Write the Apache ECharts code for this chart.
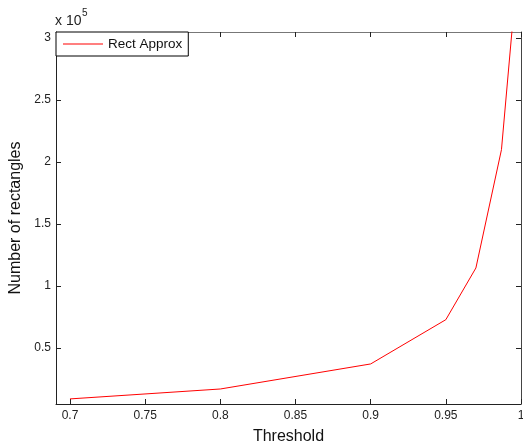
<!DOCTYPE html>
<html><head><meta charset="utf-8">
<script src="https://cdn.jsdelivr.net/npm/echarts@6/dist/echarts.min.js"></script>
<style>html,body{margin:0;padding:0;background:#fff}#c{width:523px;height:446px}</style>
</head><body><div id="c"></div>
<script>
const thresholds = [0.7, 0.8, 0.9, 0.95, 0.97, 0.987, 1.0];
const rectCounts = [8900, 16900, 37100, 72800, 114500, 209900, 388000];
const xTicks = [0.7, 0.75, 0.8, 0.85, 0.9, 0.95, 1.0];
const yTicks = [50000, 100000, 150000, 200000, 250000, 300000];
const seriesName = 'Rect Approx';

const FONT = '"Liberation Sans", Arial, sans-serif';
const X_MIN = 0.6907, X_MAX = 1.0, Y_MIN = 4800, Y_MAX = 304800;
const chart = echarts.init(document.getElementById('c'));
const tickStyle = {show: true, inside: true, length: 5, lineStyle: {color: '#222', width: 1}};
const xfmt = v => (Math.round(v*100)/100).toString();
chart.setOption({
  animation: false,
  backgroundColor: '#fff',
  grid: {left: 56, right: 2, top: 32, bottom: 42, containLabel: false, outerBoundsMode: 'none'},
  legend: {
    left: 56, top: 32, orient: 'vertical',
    backgroundColor: '#fff', borderColor: '#000', borderWidth: 1, borderRadius: 0,
    padding: [5, 6, 5, 7], itemWidth: 40, itemHeight: 12, itemGap: 0,
    textStyle: {fontFamily: FONT, fontSize: 13.5, color: '#111'},
    data: [{name: seriesName, icon: 'path://M0,0L40,0L40,1L0,1Z'}]
  },
  xAxis: [{
    type: 'value', min: X_MIN, max: X_MAX, position: 'bottom',
    name: 'Threshold', nameLocation: 'middle', nameGap: 25,
    nameTextStyle: {fontFamily: FONT, fontSize: 16, color: '#111'},
    axisLine: {show: true, lineStyle: {color: '#222', width: 1}},
    axisTick: Object.assign({customValues: xTicks}, tickStyle),
    axisLabel: {customValues: xTicks, formatter: xfmt, fontFamily: FONT, fontSize: 12, color: '#222', margin: 6},
    splitLine: {show: false}
  }, {
    type: 'value', min: X_MIN, max: X_MAX, position: 'top',
    axisLine: {show: true, onZero: false, lineStyle: {color: '#777', width: 1}},
    axisTick: Object.assign({customValues: xTicks}, tickStyle),
    axisLabel: {show: false},
    splitLine: {show: false}
  }],
  yAxis: [{
    type: 'value', min: Y_MIN, max: Y_MAX, position: 'left',
    name: 'Number of rectangles', nameLocation: 'middle', nameGap: 27,
    nameTextStyle: {fontFamily: FONT, fontSize: 16, color: '#111'},
    axisLine: {show: true, lineStyle: {color: '#222', width: 1}},
    axisTick: Object.assign({customValues: yTicks}, tickStyle),
    axisLabel: {customValues: yTicks, formatter: v => (Math.round(v/10000)/10).toString(), fontFamily: FONT, fontSize: 12, color: '#222', margin: 5},
    splitLine: {show: false}
  }, {
    type: 'value', min: Y_MIN, max: Y_MAX, position: 'right',
    axisLine: {show: true, onZero: false, lineStyle: {color: '#444', width: 1}},
    axisTick: Object.assign({customValues: yTicks}, tickStyle),
    axisLabel: {show: false},
    splitLine: {show: false}
  }],
  graphic: [{
    type: 'text', x: 55, y: 21,
    style: {text: 'x 10', fontFamily: FONT, fontSize: 14, fill: '#222', align: 'left', verticalAlign: 'middle'}
  }, {
    type: 'text', x: 82, y: 13,
    style: {text: '5', fontFamily: FONT, fontSize: 10, fill: '#222', align: 'left', verticalAlign: 'middle'}
  }],
  series: [{
    name: seriesName, type: 'line', xAxisIndex: 0, yAxisIndex: 0,
    data: thresholds.map((t, i) => [t, rectCounts[i]]),
    symbol: 'none', clip: true,
    lineStyle: {color: '#ff0000', width: 1},
    itemStyle: {color: '#ff0000'}
  }]
});
</script></body></html>
